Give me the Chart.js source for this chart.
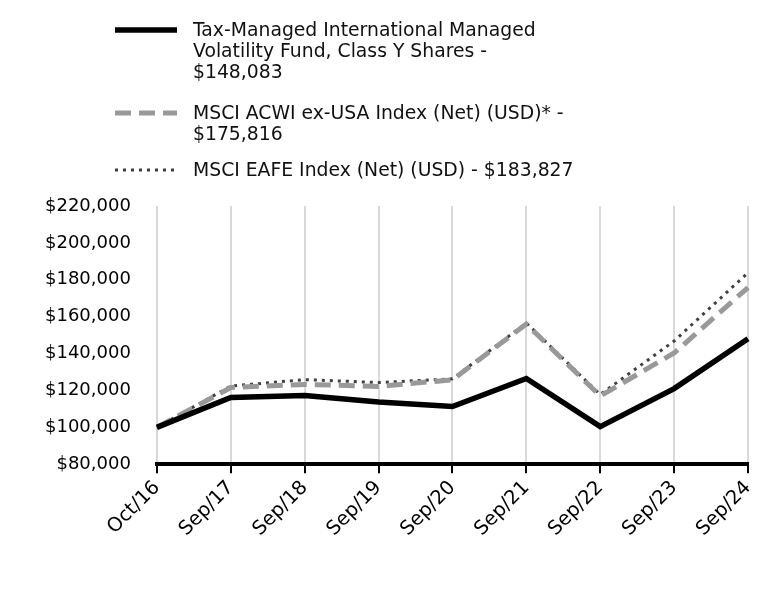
<!DOCTYPE html>
<html>
<head>
<meta charset="utf-8">
<script src="https://cdn.jsdelivr.net/npm/chart.js@4.4.1/dist/chart.umd.min.js"></script>
<style>
  html, body { margin: 0; padding: 0; background: #fff; }
  #wrap { position: relative; width: 768px; height: 612px; }
  #legend { position: absolute; left: 115px; top: 19px; font-family: "DejaVu Sans", sans-serif; font-size: 18.8px; line-height: 21px; color: #111; }
  .item { position: relative; padding-left: 78px; margin-bottom: 20px; }
  .item:nth-child(2) { margin-bottom: 15px; }
  .item svg { position: absolute; left: 0; top: 4px; }
</style>
</head>
<body>
<div id="wrap">
  <canvas id="chart" width="768" height="612"></canvas>
  <div id="legend"></div>
</div>
<script>
const categories = ['Oct/16', 'Sep/17', 'Sep/18', 'Sep/19', 'Sep/20', 'Sep/21', 'Sep/22', 'Sep/23', 'Sep/24'];
const fundValues = [100000, 116200, 117300, 113800, 111300, 126500, 100400, 121000, 148083];
const acwiValues = [100000, 121600, 123300, 122200, 125800, 156000, 117000, 140300, 175816];
const eafeValues = [100000, 122400, 125900, 124300, 126300, 156600, 117800, 146800, 183827];
const yTicks = [80000, 100000, 120000, 140000, 160000, 180000, 200000, 220000];

const fundLabel = 'Tax-Managed International Managed Volatility Fund, Class Y Shares - $148,083';
const acwiLabel = 'MSCI ACWI ex-USA Index (Net) (USD)* - $175,816';
const eafeLabel = 'MSCI EAFE Index (Net) (USD) - $183,827';

const FONT = '"DejaVu Sans", sans-serif';

// legend built by hand so text wraps like the original
const legendItems = [
  { lines: ['Tax-Managed International Managed', 'Volatility Fund, Class Y Shares -', '$148,083'], color: '#000', width: 5.5, dash: '' },
  { lines: ['MSCI ACWI ex-USA Index (Net) (USD)* -', '$175,816'], color: '#999', width: 5, dash: '16 8' },
  { lines: ['MSCI EAFE Index (Net) (USD) - $183,827'], color: '#404040', width: 3, dash: '3 5' }
];
const legendEl = document.getElementById('legend');
legendItems.forEach(it => {
  const div = document.createElement('div');
  div.className = 'item';
  div.innerHTML = '<svg width="62" height="14"><line x1="0" y1="7" x2="62" y2="7" stroke="' + it.color +
    '" stroke-width="' + it.width + '"' + (it.dash ? ' stroke-dasharray="' + it.dash + '"' : '') + '/></svg>' +
    it.lines.join('<br>');
  legendEl.appendChild(div);
});

new Chart(document.getElementById('chart'), {
  type: 'line',
  data: {
    labels: categories,
    datasets: [
      { label: fundLabel, data: fundValues, borderColor: '#000', borderWidth: 5.5, pointRadius: 0, tension: 0 },
      { label: acwiLabel, data: acwiValues, borderColor: '#999', borderWidth: 5, borderDash: [16, 8], pointRadius: 0, tension: 0 },
      { label: eafeLabel, data: eafeValues, borderColor: '#404040', borderWidth: 3, borderDash: [3, 5], pointRadius: 0, tension: 0 }
    ]
  },
  options: {
    responsive: false,
    animation: false,
    layout: { padding: { top: 206, right: 20, bottom: 68, left: 27 } },
    plugins: { legend: { display: false }, tooltip: { enabled: false } },
    scales: {
      x: {
        offset: false,
        grid: { color: '#d9d9d9', lineWidth: 2, tickColor: '#000', tickLength: 9 },
        border: { color: '#000', width: 4 },
        ticks: { color: '#000', font: { family: FONT, size: 19.5 }, maxRotation: 45, minRotation: 45, padding: 3 }
      },
      y: {
        min: 80000,
        max: 220000,
        afterBuildTicks: axis => { axis.ticks = yTicks.map(v => ({ value: v })); },
        grid: { display: false },
        border: { display: false },
        ticks: {
          color: '#000',
          padding: 18,
          font: { family: FONT, size: 18 },
          callback: v => '$' + v.toLocaleString('en-US')
        }
      }
    }
  }
});
</script>
</body>
</html>
